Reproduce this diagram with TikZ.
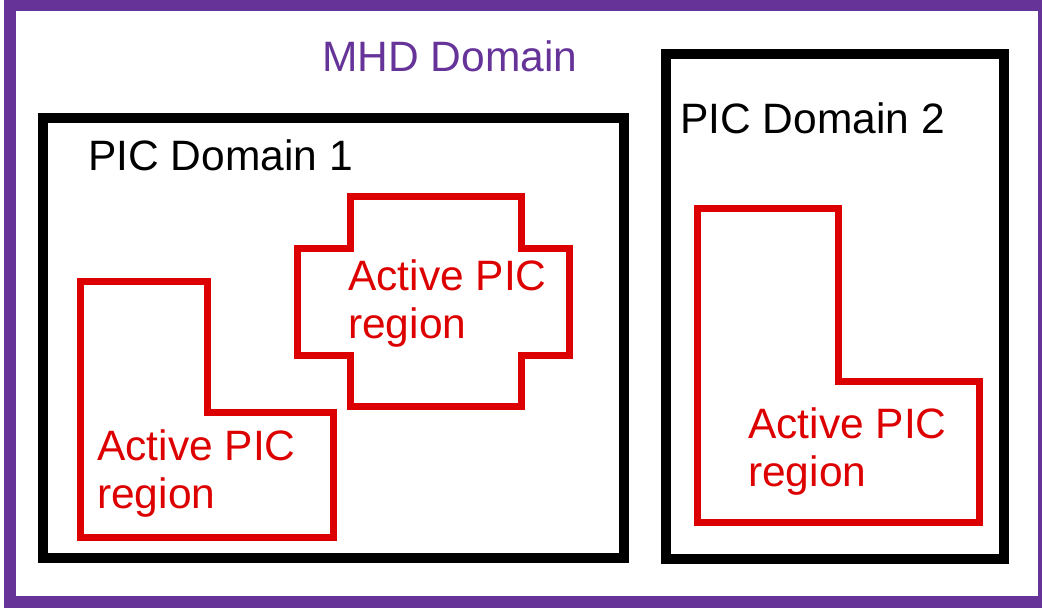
\documentclass[tikz,border=0pt]{standalone}
\usepackage{fontspec}
\setmainfont{Liberation Sans}
\usepackage{tikz}
\definecolor{mhdpurple}{RGB}{102,51,153}
\definecolor{picred}{RGB}{221,0,0}
\usetikzlibrary{positioning}
\tikzstyle{mhdframe} = [draw=mhdpurple, line width=12pt]
\tikzstyle{picbox} = [draw=black, line width=10pt]
\tikzstyle{active} = [draw=picred, line width=7pt]
\tikzstyle{tag} = [inner sep=0pt, anchor=base west, font=\fontsize{42.5}{48}\selectfont]
\tikzstyle{redtag} = [tag, text=picred, align=left]

\begin{document}
\begin{tikzpicture}[x=1pt, y=-1pt]
    \useasboundingbox (0,0) rectangle (1042,610);

    % Place the domains
    \draw [mhdframe] (10,5) rectangle (1044,602);
    \draw [picbox] (43,118) rectangle (624,558);
    \draw [picbox] (666,54) rectangle (1004,559);

    % Active regions
    \draw [active] (80,281) -| (207,412) -| (333,537) -| cycle;
    \draw [active] (350,196) -| (521,248) -| (569,355) -| (521,406)
        -| (350,355) -| (297,248) -| (350,196) -- cycle;
    \draw [active] (697,208) -| (838,381) -| (979,522) -| cycle;

    % Labels (base = last line)
    \node [tag, text=mhdpurple] (mhd) at (322,72) {MHD Domain};
    \node [tag] (pic1) at (88,170) {PIC Domain 1};
    \node [tag] (pic2) at (680,133) {PIC Domain 2};
    \node [redtag] (act1) at (97,508) {Active PIC\\region};
    \node [redtag] (act2) at (348,338) {Active PIC\\region};
    \node [redtag] (act3) at (748,486) {Active PIC\\region};
\end{tikzpicture}
\end{document}
